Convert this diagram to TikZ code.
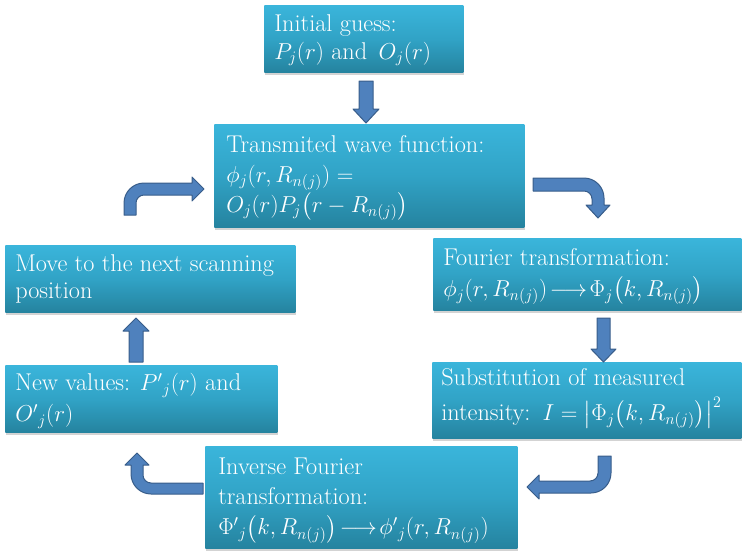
\documentclass[tikz,border=0pt]{standalone}
\usepackage{amsmath}
\usetikzlibrary{shadows}

\definecolor{boxtop}{RGB}{58,181,219}
\definecolor{boxmid}{RGB}{49,163,198}
\definecolor{boxbot}{RGB}{37,131,159}
\definecolor{arrowfill}{RGB}{79,129,189}
\definecolor{arrowline}{RGB}{56,93,138}

% text size with a fixed distance between baselines
\newcommand\boxfont[1]{\fontsize{18.2}{#1}\selectfont\lineskiplimit=-60pt\lineskip=0pt}
\newcommand\firstline{\rule{0pt}{14pt}}

\begin{document}
\begin{tikzpicture}[x=0.75pt,y=-0.75pt,
  stepbox/.style={rectangle, anchor=north west, inner sep=0pt,
    top color=boxtop, bottom color=boxbot, middle color=boxmid,
    drop shadow={shadow xshift=0.8pt, shadow yshift=-2.2pt, opacity=0.35}},
  boxtext/.style={anchor=north west, inner sep=0pt, text=white, align=left,
    execute at begin node=\firstline},
  blockarrow/.style={fill=arrowfill, draw=arrowline, line width=0.75pt, line join=round}]

\useasboundingbox (0,0) rectangle (742,550);

% process boxes
\node[stepbox, minimum width=149.25pt, minimum height=50.25pt] (init) at (264,5) {};
\node[stepbox, minimum width=232.5pt, minimum height=77.25pt] (trans) at (214,124) {};
\node[stepbox, minimum width=231pt, minimum height=54pt] (fourier) at (433,238) {};
\node[stepbox, minimum width=231.75pt, minimum height=57pt] (subst) at (432,362) {};
\node[stepbox, minimum width=234pt, minimum height=76.5pt] (inverse) at (205,446) {};
\node[stepbox, minimum width=204pt, minimum height=50.25pt] (newvals) at (5,365) {};
\node[stepbox, minimum width=217.5pt, minimum height=50.25pt] (move) at (5,245) {};

% box texts
\node[boxtext, font=\boxfont{21pt}] (init-text) at (274,14.3)
  {Initial guess:\\ $P_j(r)$ and\, $O_j(r)$};
\node[boxtext, font=\boxfont{22.3pt}] (trans-text) at (226,135.3)
  {Transmited wave function:\\ $\phi_j(r,R_{n(j)})=$\\ $O_j(r)P_j\big(r-R_{n(j)}\big)$};
\node[boxtext, font=\boxfont{23.25pt}] (fourier-text) at (443,248.3)
  {Fourier transformation:\\ $\phi_j(r,R_{n(j)})\!\longrightarrow\!\Phi_j\big(k,R_{n(j)}\big)$};
\node[boxtext, font=\boxfont{26.25pt}] (subst-text) at (441,368.3)
  {Substitution of measured\\ intensity:\hspace{0.5em}$I=\big|\Phi_j\big(k,R_{n(j)}\big)\big|^2$};
\node[boxtext, font=\boxfont{22.8pt}] (inverse-text) at (218,457.3)
  {Inverse Fourier\\ transformation:\\ $\Phi'{}_j\big(k,R_{n(j)}\big)\!\longrightarrow\!\phi'{}_j(r,R_{n(j)})$};
\node[boxtext, font=\boxfont{23.25pt}] (newvals-text) at (15,373.3)
  {New values: $P'{}_j(r)$ and\\ $O'{}_j(r)$};
\node[boxtext, font=\boxfont{20.25pt}] (move-text) at (15,254.3)
  {Move to the next scanning\\ position};

% straight block arrows
\draw[blockarrow] (359,81) -- (373,81) -- (373,109) -- (379,109) -- (366,123)
  -- (353,109) -- (359,109) -- cycle;
\draw[blockarrow] (597,318) -- (610,318) -- (610,349) -- (616,349) -- (603.5,362)
  -- (591,349) -- (597,349) -- cycle;
\draw[blockarrow] (129,362) -- (143,362) -- (143,331) -- (149,331) -- (136,318)
  -- (123,331) -- (129,331) -- cycle;

% bent block arrows
\draw[blockarrow] (124,215) -- (124,203) .. controls (124,192) and (133,183) .. (144,183)
  -- (192,183) -- (192,177) -- (204,189) -- (192,201) -- (192,195) -- (144,195)
  .. controls (139.6,195) and (136,198.6) .. (136,203) -- (136,215) -- cycle;
\draw[blockarrow] (533,178) -- (584,178) .. controls (595,178) and (604,187) .. (604,198)
  -- (604,205) -- (610,205) -- (598,218) -- (586,205) -- (592,205) -- (592,199)
  .. controls (592,194.6) and (588.4,191) .. (584,191) -- (533,191) -- cycle;
\draw[blockarrow] (598,456) -- (611,456) -- (611,473) .. controls (611,484) and (602,493) .. (591,493)
  -- (539,493) -- (539,499) -- (527,487) -- (539,475) -- (539,481) -- (590,481)
  .. controls (594.4,481) and (598,477.4) .. (598,473) -- cycle;
\draw[blockarrow] (203,494) -- (151,494) .. controls (140,494) and (131,485) .. (131,474)
  -- (131,465) -- (125,465) -- (137,453) -- (149,465) -- (143,465) -- (143,475)
  .. controls (143,479.4) and (146.6,483) .. (151,483) -- (203,483) -- cycle;

\end{tikzpicture}
\end{document}
